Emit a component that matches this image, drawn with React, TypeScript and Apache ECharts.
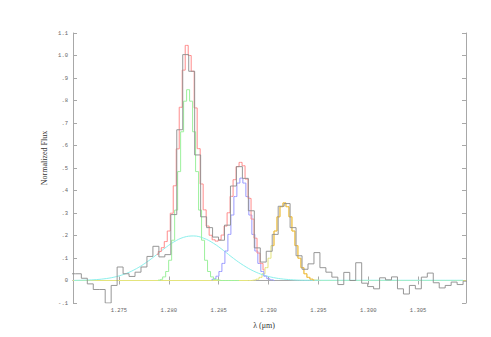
import React, { useEffect, useRef } from 'react';
import * as echarts from 'echarts';

// Observed spectrum: uniform bins starting at binStart, width binWidth
const binStart = 1.27004;
const binWidth = 0.000598;
const observedFlux = [
  0.03, 0.03, 0.01, -0.015, -0.04, -0.04, -0.1, -0.022, 0.06, 0.03,
  0.018, 0.037, 0.06, 0.107, 0.152, 0.105, 0.115, 0.293, 0.67, 1.004,
  0.93, 0.558, 0.283, 0.235, 0.193, 0.179, 0.246, 0.42, 0.506, 0.454,
  0.31, 0.145, 0.082, 0.13, 0.205, 0.33, 0.342, 0.235, 0.11, 0.05,
  0.074, 0.124, 0.057, 0.037, 0.015, -0.018, 0.036, 0.0, 0.079, -0.012,
  -0.027, -0.037, 0.012, 0.003, 0.016, -0.037, -0.06, -0.022, -0.037, 0.015,
  0.033, -0.01, -0.033, -0.022, -0.007, -0.018, -0.003,
];

// Model curves, sampled every modelStep
const modelStep = 0.0003;
const totalStart = 1.2788;
const totalFlux = [
  0.116, 0.129, 0.146, 0.173, 0.22, 0.299, 0.421, 0.585, 0.77, 0.935,
  1.045, 1.0, 0.93, 0.767, 0.586, 0.429, 0.314, 0.242, 0.201, 0.181,
  0.175, 0.181, 0.202, 0.242, 0.301, 0.374, 0.448, 0.506, 0.525, 0.51,
  0.451, 0.365, 0.273, 0.188, 0.122, 0.076, 0.047,
];
const narrowStart = 1.27894;
const narrowFlux = [
  0.002, 0.005, 0.016, 0.04, 0.09, 0.179, 0.313, 0.484, 0.661, 0.797,
  0.848, 0.797, 0.661, 0.484, 0.313, 0.179, 0.09, 0.04, 0.016, 0.005,
  0.002, 0, 0, 0, 0, 0, 0, 0,
];
const secondStart = 1.28428;
const secondFlux = [
  0.003, 0.008, 0.019, 0.04, 0.076, 0.131, 0.205, 0.291, 0.373, 0.433,
  0.455, 0.433, 0.373, 0.291, 0.205, 0.131, 0.076, 0.04, 0.019, 0.008,
  0.003, 0,
];
const thirdStart = 1.2886;
const thirdFlux = [
  0.002, 0.006, 0.014, 0.03, 0.057, 0.099, 0.155, 0.22, 0.283, 0.328,
  0.345, 0.328, 0.283, 0.22, 0.155, 0.099, 0.057, 0.03, 0.014, 0.006,
  0.002,
];
const thirdUpperFrom = 6; // index where the orange trace begins

// Broad component, smooth, sampled every broadStep
const broadStart = 1.2705;
const broadStep = 0.001;
const broadFlux = [
  0.0005, 0.0014, 0.0033, 0.0073, 0.0147, 0.0273, 0.0466, 0.0728, 0.105, 0.14,
  0.171, 0.192, 0.198, 0.188, 0.165, 0.133, 0.098, 0.067, 0.042, 0.0244,
  0.0129, 0.0063, 0.0028, 0.0012, 0.001, 0.001, 0.001, 0.001, 0.001, 0.001,
  0.001, 0.001, 0.001, 0.001, 0.001, 0.001, 0.001, 0.001, 0.001, 0.001,
];

const xMin = 1.2704;
const xMax = 1.3098;
const xTickValues = [1.275, 1.28, 1.285, 1.29, 1.295, 1.3, 1.305];

const pairs = (start: number, step: number, vals: number[]) =>
  vals.map((v, i) => [start + i * step, v]);

export default function App() {
  const ref = useRef<HTMLDivElement>(null);
  useEffect(() => {
    if (!ref.current) return;
    const chart = echarts.init(ref.current, undefined, { renderer: 'svg' });

    const obs = pairs(binStart, binWidth, observedFlux);
    obs.push([binStart + observedFlux.length * binWidth, observedFlux[observedFlux.length - 1]]);

    const yellow = [[xMin, 0], [1.2880, 0], ...pairs(thirdStart, modelStep, thirdFlux), [1.2952, 0], [xMax, 0]];
    const orange = pairs(thirdStart + thirdUpperFrom * modelStep, modelStep, thirdFlux.slice(thirdUpperFrom));

    const lineBase = (color: string, data: any[], step: any, extra: any = {}) => ({
      type: 'line',
      data,
      step,
      symbol: 'none',
      silent: true,
      lineStyle: { color, width: 1, ...extra },
      xAxisIndex: 0,
      yAxisIndex: 0,
    });

    const axisLineStyle = { color: '#a8a8a8', width: 1 };
    const tickStyle = { color: '#a8a8a8', width: 1 };

    chart.setOption({
      animation: false,
      grid: { left: 73, right: 25, top: 33, bottom: 34, containLabel: false },
      xAxis: [
        {
          type: 'value', position: 'bottom', min: xMin, max: xMax,
          axisLine: { show: true, lineStyle: axisLineStyle },
          axisTick: { show: true, inside: true, length: 4, customValues: xTickValues, lineStyle: tickStyle },
          axisLabel: {
            show: true, customValues: xTickValues, margin: 4,
            formatter: (v: number) => v.toFixed(3),
            fontFamily: 'Liberation Mono', fontSize: 5.5, color: '#666',
          },
          splitLine: { show: false },
        },
        {
          type: 'value', position: 'top', min: xMin, max: xMax,
          axisLine: { show: true, lineStyle: axisLineStyle },
          axisTick: { show: true, inside: true, length: 4, customValues: xTickValues, lineStyle: tickStyle },
          axisLabel: { show: false },
          splitLine: { show: false },
        },
      ],
      yAxis: [
        {
          type: 'value', position: 'left', min: -0.1, max: 1.1, interval: 0.1,
          axisLine: { show: true, lineStyle: axisLineStyle },
          axisTick: { show: true, inside: true, length: 4, lineStyle: tickStyle },
          axisLabel: {
            show: true, margin: 5,
            formatter: (v: number) => {
              const r = Math.round(v * 10) / 10;
              if (r === 0) return '0';
              let s = r.toFixed(1);
              if (Math.abs(r) < 1) s = s.replace('0.', '.');
              return s;
            },
            fontFamily: 'Liberation Mono', fontSize: 5.5, color: '#666',
          },
          splitLine: { show: false },
        },
        {
          type: 'value', position: 'right', min: -0.1, max: 1.1, interval: 0.1,
          axisLine: { show: true, lineStyle: axisLineStyle },
          axisTick: { show: true, inside: true, length: 4, lineStyle: tickStyle },
          axisLabel: { show: false },
          splitLine: { show: false },
        },
      ],
      graphic: [
        {
          type: 'text', x: 44, y: 158, rotation: Math.PI / 2,
          style: {
            text: 'Normalized Flux', fontFamily: 'Liberation Serif', fontSize: 8,
            fill: '#333', align: 'center', verticalAlign: 'middle',
          },
        },
        {
          type: 'text', x: 264, y: 325,
          style: {
            text: 'λ (μm)', fontFamily: 'Liberation Serif', fontSize: 8,
            fill: '#333', align: 'center', verticalAlign: 'middle',
          },
        },
      ],
      series: [
        lineBase('#e4e47c', yellow, 'middle'),
        { ...lineBase('#8cf0ec', pairs(broadStart, broadStep, broadFlux), false), smooth: 0.4 },
        lineBase('#9a9aff', pairs(secondStart, modelStep, secondFlux), 'middle'),
        lineBase('#9cf09c', pairs(narrowStart, modelStep, narrowFlux), 'middle'),
        lineBase('#f5b845', orange, 'middle'),
        lineBase('#ff8c8c', pairs(totalStart, modelStep, totalFlux), 'middle'),
        lineBase('#8c8c8c', obs, 'end', { opacity: 0.9 }),
      ],
    });
    return () => chart.dispose();
  }, []);
  return (
    <div
      ref={ref}
      style={{ position: 'absolute', left: 0, top: 0, width: 491, height: 337, background: '#fff' }}
    />
  );
}
